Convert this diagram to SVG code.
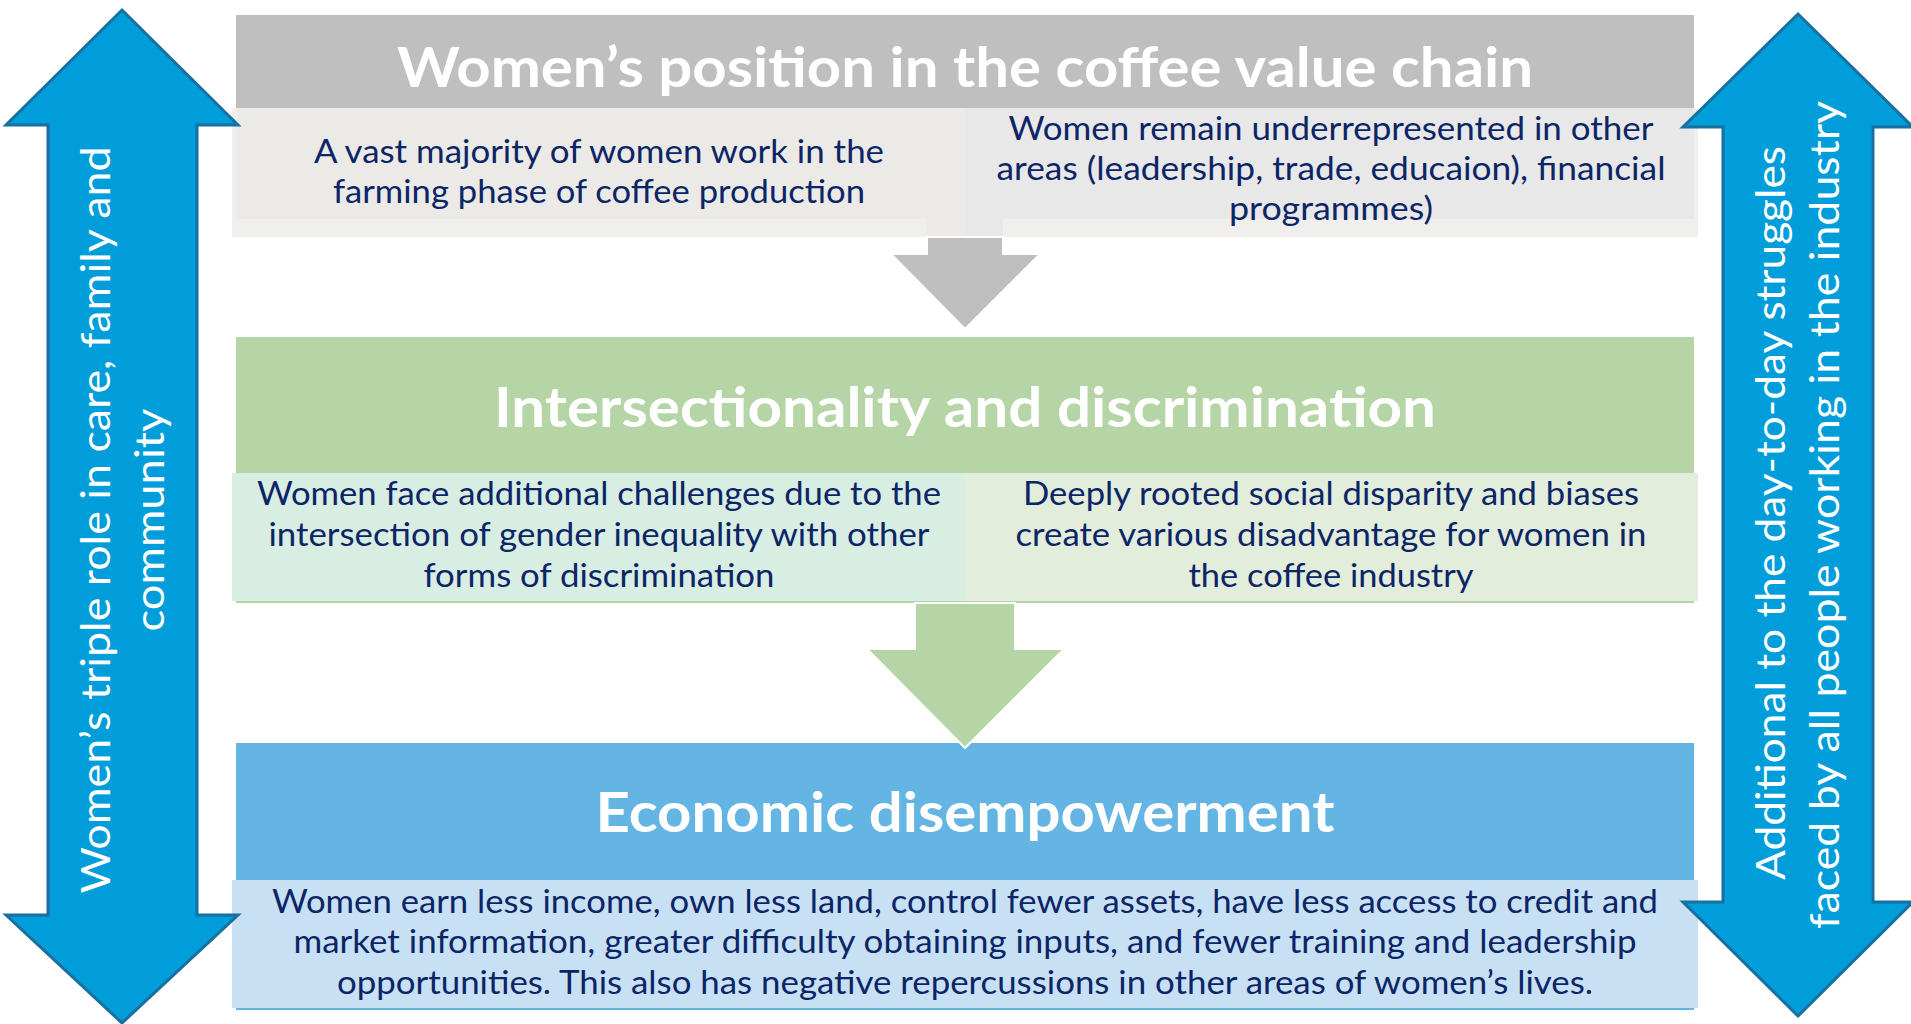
<svg xmlns="http://www.w3.org/2000/svg" width="1911" height="1024" viewBox="0 0 1911 1024">
<style>
.title{font-family:Lato,"Open Sans","Liberation Sans",sans-serif;font-weight:bold;font-size:56px;fill:#ffffff;text-anchor:middle}
.body{font-family:Lato,"Open Sans","Liberation Sans",sans-serif;font-size:32px;fill:#0c2566;text-anchor:middle}
.side{font-family:Lato,"Open Sans","Liberation Sans",sans-serif;font-size:41px;fill:#ffffff;text-anchor:middle}
.bigarrow{fill:#009ddb;stroke:#17709f;stroke-width:3;stroke-linejoin:miter}
</style>
<rect width="1911" height="1024" fill="#ffffff"/>

<g id="node-position">
<rect x="236" y="15" width="1458" height="93" fill="#bfbfbf"/>
<rect x="232" y="108" width="1466" height="129" fill="#f0efed"/>
<path d="M237,108 H965 V237 H927 V219 H237 Z" fill="#ebeae7"/>
<path d="M965,108 H1694 V219 H1003 V237 H965 Z" fill="#e8e8e8"/>
<text class="title" x="965" y="87" textLength="1136" lengthAdjust="spacingAndGlyphs">Women’s position in the coffee value chain</text>
<text class="body" x="599" y="163" textLength="570" lengthAdjust="spacingAndGlyphs">A vast majority of women work in the</text>
<text class="body" x="599" y="203" textLength="532" lengthAdjust="spacingAndGlyphs">farming phase of coffee production</text>
<text class="body" x="1331" y="140" textLength="645" lengthAdjust="spacingAndGlyphs">Women remain underrepresented in other</text>
<text class="body" x="1331" y="180" textLength="669" lengthAdjust="spacingAndGlyphs">areas (leadership, trade, educaion), financial</text>
<text class="body" x="1331" y="220" textLength="204" lengthAdjust="spacingAndGlyphs">programmes)</text>
</g>

<g id="node-intersectionality">
<rect x="236" y="337" width="1458" height="266" fill="#b5d5a6"/>
<rect x="232" y="473" width="733" height="128" fill="#d8eee3"/>
<rect x="965" y="473" width="733" height="128" fill="#e2eddc"/>
<text class="title" x="965" y="427" textLength="942" lengthAdjust="spacingAndGlyphs">Intersectionality and discrimination</text>
<text class="body" x="599" y="505" textLength="684" lengthAdjust="spacingAndGlyphs">Women face additional challenges due to the</text>
<text class="body" x="599" y="546" textLength="661" lengthAdjust="spacingAndGlyphs">intersection of gender inequality with other</text>
<text class="body" x="599" y="587" textLength="351" lengthAdjust="spacingAndGlyphs">forms of discrimination</text>
<text class="body" x="1331" y="505" textLength="616" lengthAdjust="spacingAndGlyphs">Deeply rooted social disparity and biases</text>
<text class="body" x="1331" y="546" textLength="631" lengthAdjust="spacingAndGlyphs">create various disadvantage for women in</text>
<text class="body" x="1331" y="587" textLength="285" lengthAdjust="spacingAndGlyphs">the coffee industry</text>
</g>

<g id="node-economic">
<rect x="236" y="743" width="1458" height="267" fill="#65b5e4"/>
<rect x="232" y="880" width="1466" height="128" fill="#c8e0f3"/>
<text class="title" x="965" y="832" textLength="739" lengthAdjust="spacingAndGlyphs">Economic disempowerment</text>
<text class="body" x="965" y="913" textLength="1386" lengthAdjust="spacingAndGlyphs">Women earn less income, own less land, control fewer assets, have less access to credit and</text>
<text class="body" x="965" y="953" textLength="1343" lengthAdjust="spacingAndGlyphs">market information, greater difficulty obtaining inputs, and fewer training and leadership</text>
<text class="body" x="965" y="994" textLength="1256" lengthAdjust="spacingAndGlyphs">opportunities. This also has negative repercussions in other areas of women’s lives.</text>
</g>

<g id="side-left">
<polygon class="bigarrow" points="122,10 238,125 197,125 197,915 238,915 122,1023 6,915 48,915 48,125 6,125"/>
<text class="side" transform="translate(110,520) rotate(-90)" textLength="747" lengthAdjust="spacingAndGlyphs">Women’s triple role in care, family and</text>
<text class="side" transform="translate(164,520) rotate(-90)" textLength="223" lengthAdjust="spacingAndGlyphs">community</text>
</g>

<g id="side-right">
<polygon class="bigarrow" points="1798,14 1913,127 1873,127 1873,902 1913,902 1798,1016 1683,902 1723,902 1723,127 1683,127"/>
<text class="side" transform="translate(1785,513) rotate(-90)" textLength="734" lengthAdjust="spacingAndGlyphs">Additional to the day-to-day struggles</text>
<text class="side" transform="translate(1839,515) rotate(-90)" textLength="828" lengthAdjust="spacingAndGlyphs">faced by all people working in the industry</text>
</g>

<g id="connectors">
<polygon points="927,237 1003,237 1003,254 1040,254 965,329 891,254 927,254" fill="#bfbfbf" stroke="#ffffff" stroke-width="2"/>
<polygon points="915,603 1015,603 1015,649 1064,649 965,748 867,649 915,649" fill="#b5d5a6" stroke="#ffffff" stroke-width="2"/>
</g>
</svg>
